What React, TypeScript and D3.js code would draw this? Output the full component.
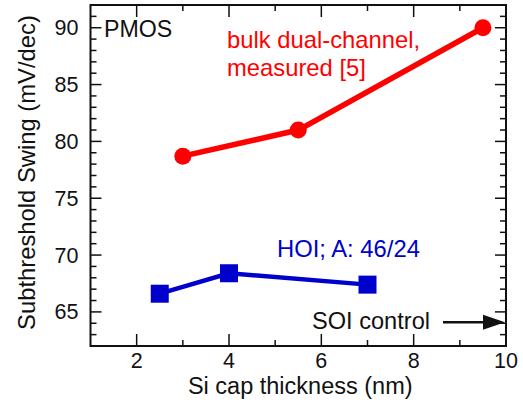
import React from "react";
import * as d3 from "d3";

// Si cap thickness (nm) vs. subthreshold swing (mV/dec)
const bulkThickness = [3, 5.5, 9.5];
const bulkSwing = [78.7, 81.0, 90.0];
const hoiThickness = [2.5, 4, 7];
const hoiSwing = [66.6, 68.4, 67.4];

const xTickLabels = [2, 4, 6, 8, 10];
const yTickLabels = [65, 70, 75, 80, 85, 90];

const W = 523;
const H = 404;
const M = { left: 90.5, right: 17, top: 5, bottom: 58 };
const FONT = "Liberation Sans, Arial, sans-serif";

export default function App() {
  const x = d3.scaleLinear().domain([1, 10]).range([M.left, W - M.right]);
  const y = d3.scaleLinear().domain([62, 92]).range([H - M.bottom, M.top]);

  const line = d3
    .line<[number, number]>()
    .x((d) => x(d[0]))
    .y((d) => y(d[1]));

  const bulk = bulkThickness.map((t, i) => [t, bulkSwing[i]] as [number, number]);
  const hoi = hoiThickness.map((t, i) => [t, hoiSwing[i]] as [number, number]);

  const xMinor = d3.range(2, 10, 1);
  const yMinor = d3.range(63, 92, 1);
  const x0 = x.range()[0];
  const x1 = x.range()[1];
  const y0 = y.range()[0];
  const y1 = y.range()[1];

  const arrowY = y(64.1);

  return (
    <svg width={W} height={H} style={{ position: "absolute", left: 0, top: 0, background: "#fff" }}>
      {/* ticks on all four sides, pointing inward */}
      <g stroke="#111" strokeWidth={1.5}>
        {xMinor.map((v) => {
          const major = v % 2 === 0;
          const len = major ? 12 : 6;
          return (
            <g key={"xt" + v}>
              <line x1={x(v)} x2={x(v)} y1={y0} y2={y0 - len} />
              <line x1={x(v)} x2={x(v)} y1={y1} y2={y1 + len} />
            </g>
          );
        })}
        {yMinor.map((v) => {
          const major = v % 5 === 0;
          const len = major ? 11 : 6;
          return (
            <g key={"yt" + v}>
              <line x1={x0} x2={x0 + len} y1={y(v)} y2={y(v)} />
              <line x1={x1} x2={x1 - len} y1={y(v)} y2={y(v)} />
            </g>
          );
        })}
      </g>
      <rect x={x0} y={y1} width={x1 - x0} height={y0 - y1} fill="none" stroke="#111" strokeWidth={2} />

      {/* tick labels */}
      <g fontFamily={FONT} fontSize={21.5} fill="#111">
        {xTickLabels.map((v) => (
          <text key={"xl" + v} x={x(v)} y={y0 + 22} textAnchor="middle">
            {v}
          </text>
        ))}
        {yTickLabels.map((v) => (
          <text key={"yl" + v} x={x0 - 12} y={y(v) + 7.5} textAnchor="end">
            {v}
          </text>
        ))}
      </g>

      {/* axis titles */}
      <text x={(x0 + x1) / 2 + 2} y={394} textAnchor="middle" fontFamily={FONT} fontSize={23.5} fill="#111">
        Si cap thickness (nm)
      </text>
      <text
        transform={`translate(34.5, ${172.5}) rotate(-90)`}
        textAnchor="middle"
        fontFamily={FONT}
        fontSize={23.8}
        fill="#111"
      >
        Subthreshold Swing (mV/dec)
      </text>

      {/* series */}
      <path d={line(bulk) ?? ""} fill="none" stroke="#ff0000" strokeWidth={5.5} />
      {bulk.map((d, i) => (
        <circle key={"b" + i} cx={x(d[0])} cy={y(d[1])} r={8.5} fill="#ff0000" />
      ))}
      <path d={line(hoi) ?? ""} fill="none" stroke="#0000cc" strokeWidth={4.5} />
      {hoi.map((d, i) => (
        <rect key={"h" + i} x={x(d[0]) - 9} y={y(d[1]) - 9} width={18} height={18} fill="#0000cc" />
      ))}

      {/* annotations */}
      <text x={104} y={37} fontFamily={FONT} fontSize={23.2} fill="#111">
        PMOS
      </text>
      <g fontFamily={FONT} fontSize={23.8} fill="#ff0000">
        <text x={227} y={48}>bulk dual-channel,</text>
        <text x={227} y={76}>measured [5]</text>
      </g>
      <text x={277} y={257} fontFamily={FONT} fontSize={23.8} fill="#0000cc">
        HOI; A: 46/24
      </text>
      <text x={312} y={329} fontFamily={FONT} fontSize={23.6} fill="#111">
        SOI control
      </text>
      <line x1={443} x2={486} y1={arrowY} y2={arrowY} stroke="#111" strokeWidth={2.5} />
      <path d={`M ${x1 - 1} ${arrowY} L ${483} ${arrowY - 7.5} L ${483} ${arrowY + 7.5} Z`} fill="#111" />
    </svg>
  );
}
